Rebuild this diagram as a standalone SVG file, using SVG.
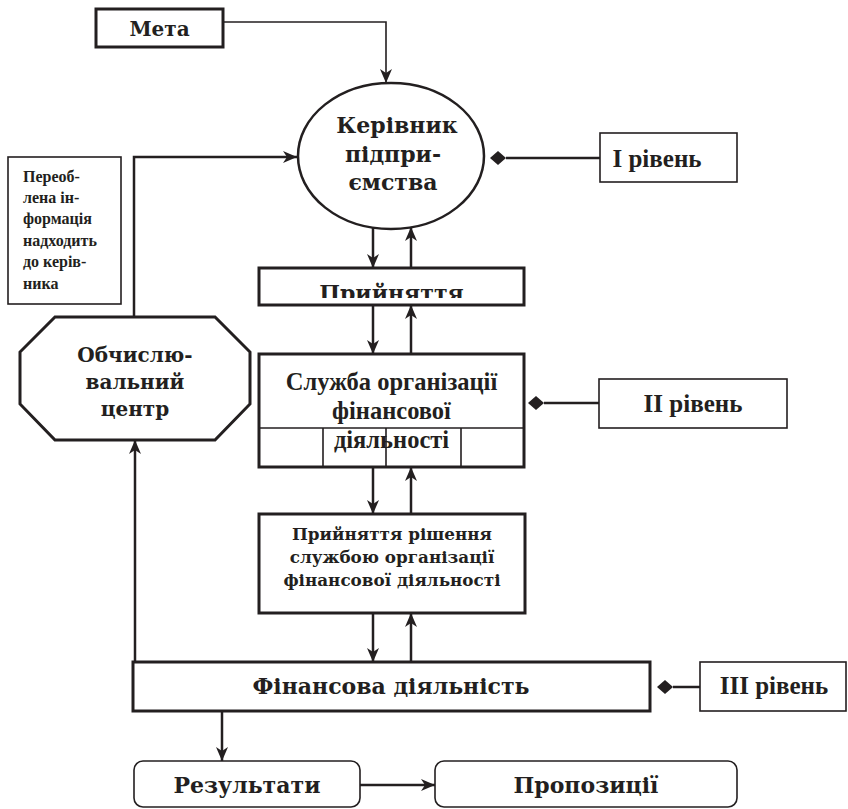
<svg xmlns="http://www.w3.org/2000/svg" width="848" height="809" viewBox="0 0 848 809">
<style>
.main{fill:#fff;stroke:#231f20;stroke-width:3}
.thin{fill:#fff;stroke:#231f20;stroke-width:1.6}
.ln{fill:none;stroke:#231f20;stroke-width:2.5}
.ln1{fill:none;stroke:#231f20;stroke-width:1.6}
.cs{font-family:"DejaVu Serif",serif;font-weight:bold;fill:#231f20;text-anchor:middle}
.tm{font-family:"Liberation Serif",serif;font-weight:bold;fill:#231f20;text-anchor:middle}
.dm{fill:#231f20}
</style>
<defs>
<marker id="arr" viewBox="0 0 14 12" refX="14" refY="6" markerWidth="14" markerHeight="12" markerUnits="userSpaceOnUse" orient="auto">
<path d="M0,0 L14,6 L0,12 L4,6 z" fill="#231f20"/>
</marker>
<clipPath id="cut"><rect x="259" y="268" width="266" height="30"/></clipPath>
</defs>
<g id="connectors">
<path class="ln1" d="M223,22 H386 V83" marker-end="url(#arr)"/>
<path class="ln" d="M134,317 V157 H297" marker-end="url(#arr)"/>
<path class="ln" d="M373,228 V268" marker-end="url(#arr)"/>
<path class="ln" d="M411,268 V227" marker-end="url(#arr)"/>
<path class="ln" d="M373,305 V354" marker-end="url(#arr)"/>
<path class="ln" d="M411,354 V305" marker-end="url(#arr)"/>
<path class="ln" d="M373,467 V514" marker-end="url(#arr)"/>
<path class="ln" d="M411,514 V467" marker-end="url(#arr)"/>
<path class="ln" d="M373,613 V662" marker-end="url(#arr)"/>
<path class="ln" d="M411,662 V613" marker-end="url(#arr)"/>
<path class="ln" d="M135,662 V440" marker-end="url(#arr)"/>
<path class="ln" d="M222,711 V761" marker-end="url(#arr)"/>
<path class="ln" d="M360,785 H435" marker-end="url(#arr)"/>
<path class="ln" d="M506,158 H600"/>
<path class="dm" d="M490,158 L498,151 L506,158 L498,165 z"/>
<path class="ln" d="M544,403 H599"/>
<path class="dm" d="M528,403 L536,396 L544,403 L536,410 z"/>
<path class="ln" d="M673,687 H700"/>
<path class="dm" d="M657,687 L665,680 L673,687 L665,694 z"/>
</g>
<g id="meta">
<rect class="main" x="96" y="9" width="127" height="38"/>
<text class="cs" x="159.5" y="36" font-size="20">Мета</text>
</g>
<g id="kerivnyk">
<ellipse class="ln" cx="391" cy="156" rx="93" ry="73" fill="#fff"/>
<text class="cs" font-size="22"><tspan x="397" y="133">Керівник</tspan><tspan x="393" y="162">підпри-</tspan><tspan x="393" y="190">ємства</tspan></text>
</g>
<g id="level1">
<rect class="thin" x="600" y="133" width="137" height="49"/>
<text class="tm" x="657" y="167" font-size="25">I рівень</text>
</g>
<g id="info">
<rect class="thin" x="8" y="157" width="113" height="147"/>
<text font-family="Liberation Serif, serif" font-weight="bold" font-size="16" fill="#231f20"><tspan x="23" y="182">Переоб-</tspan><tspan x="23" y="203">лена ін-</tspan><tspan x="23" y="224">формація</tspan><tspan x="23" y="246">надходить</tspan><tspan x="23" y="267">до керів-</tspan><tspan x="23" y="289">ника</tspan></text>
</g>
<g id="obchysl">
<path class="main" d="M55,317 H215 L250,352 V404 L215,440 H55 L20,404 V352 z"/>
<text class="cs" font-size="20"><tspan x="135" y="362">Обчислю-</tspan><tspan x="135" y="389">вальний</tspan><tspan x="135" y="416">центр</tspan></text>
</g>
<g id="pryiniattia">
<rect class="main" x="259" y="268" width="265" height="37"/>
<text class="cs" x="391.5" y="301" font-size="22" clip-path="url(#cut)">Прийняття</text>
</g>
<g id="sluzhba">
<rect class="main" x="259" y="354" width="265" height="113"/>
<path class="ln1" d="M259,428 H524 M323,428 V467 M386,428 V467 M461,428 V467"/>
<text class="tm" font-size="24.5"><tspan x="391.5" y="390">Служба організації</tspan><tspan x="391.5" y="419">фінансової</tspan><tspan x="391.5" y="448">діяльності</tspan></text>
</g>
<g id="level2">
<rect class="thin" x="599" y="379" width="188" height="49"/>
<text class="tm" x="693" y="412" font-size="25">II рівень</text>
</g>
<g id="rishennia">
<rect class="main" x="259" y="514" width="266" height="99"/>
<text class="cs" font-size="16.8"><tspan x="392" y="540">Прийняття рішення</tspan><tspan x="392" y="563">службою організації</tspan><tspan x="392" y="586">фінансової діяльності</tspan></text>
</g>
<g id="finansova">
<rect class="main" x="133" y="662" width="517" height="49"/>
<text class="cs" x="391" y="694" font-size="22">Фінансова діяльність</text>
</g>
<g id="level3">
<rect class="thin" x="700" y="662" width="146" height="49"/>
<text class="tm" x="774" y="694" font-size="25">III рівень</text>
</g>
<g id="rezultaty">
<rect class="thin" x="134" y="761" width="226" height="46" rx="9"/>
<text class="cs" x="247" y="793" font-size="22">Результати</text>
</g>
<g id="propozytsii">
<rect class="thin" x="435" y="761" width="302" height="46" rx="9"/>
<text class="cs" x="586" y="793" font-size="22">Пропозиції</text>
</g>
</svg>
